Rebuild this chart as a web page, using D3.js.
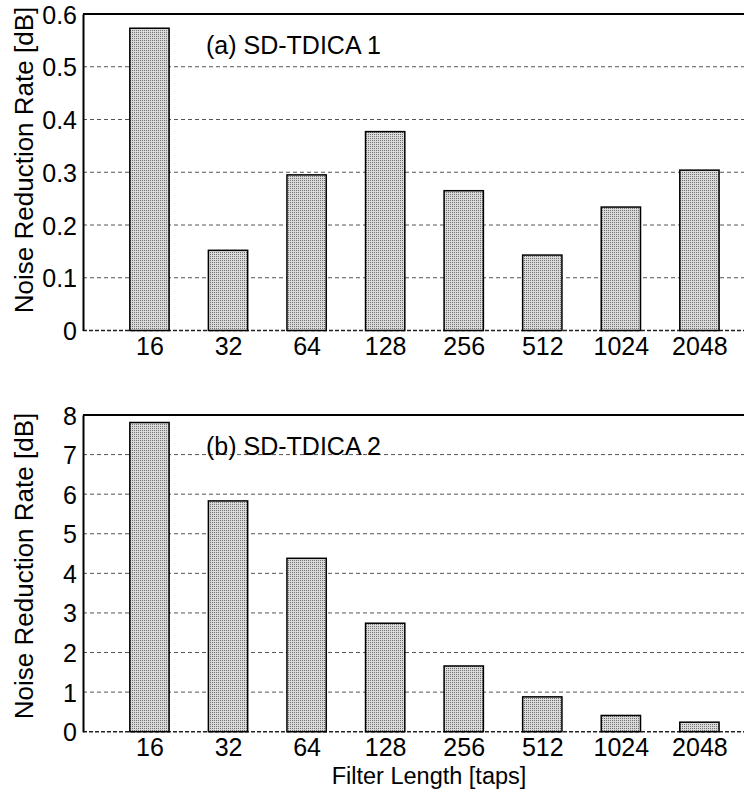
<!DOCTYPE html>
<html>
<head>
<meta charset="utf-8">
<script src="https://cdn.jsdelivr.net/npm/d3@7"></script>
<style>
  body { margin: 0; background: #fff; }
  text { font-family: Arial, "Liberation Sans", sans-serif; fill: #000; }
</style>
</head>
<body>
<div id="chart"></div>
<script>
// filter lengths (taps)
const filterLengths = ["16", "32", "64", "128", "256", "512", "1024", "2048"];

// noise reduction rate [dB]
const tdica1 = [0.573, 0.152, 0.295, 0.377, 0.265, 0.143, 0.234, 0.304];
const tdica2 = [7.81, 5.83, 4.38, 2.74, 1.66, 0.88, 0.41, 0.24];

const ticks1 = [0, 0.1, 0.2, 0.3, 0.4, 0.5, 0.6];
const ticks2 = [0, 1, 2, 3, 4, 5, 6, 7, 8];

let width = 744,
  height = 811,
  left = 83,
  right = 778; // axes run past the right edge of the picture

const svg = d3.select("#chart")
  .append("svg")
  .attr("width", width)
  .attr("height", height);

// stipple fill for the bars
let pat = svg.append("defs").append("pattern")
  .attr("id", "stipple")
  .attr("patternUnits", "userSpaceOnUse")
  .attr("width", 2)
  .attr("height", 2);
pat.append("rect").attr("width", 2).attr("height", 2).attr("fill", "#dadada");
pat.append("rect").attr("width", 1).attr("height", 1).attr("fill", "#707070");

// bars sit at 1..8 on a linear axis, like matlab's bar()
let x = d3.scaleLinear()
  .domain([0.154, 9])
  .range([left, right]);

function panel(values, ticks, top, bottom, title, fmt, labelY) {
  let y = d3.scaleLinear()
    .domain([0, d3.max(ticks)])
    .range([bottom, top]);

  let g = svg.append("g");

  // dashed grid
  g.selectAll(".grid")
    .data(ticks.filter(t => t > 0 && t < d3.max(ticks)))
    .join("line")
    .attr("x1", left)
    .attr("x2", right)
    .attr("y1", d => y(d))
    .attr("y2", d => y(d))
    .attr("stroke", "#555")
    .attr("stroke-width", 1)
    .attr("stroke-dasharray", "4,3");

  // bottom edge is dashed too
  g.append("line")
    .attr("x1", left).attr("x2", right)
    .attr("y1", y(0)).attr("y2", y(0))
    .attr("stroke", "#222")
    .attr("stroke-width", 1.5)
    .attr("stroke-dasharray", "4,2");

  g.selectAll(".bar")
    .data(values)
    .join("rect")
    .attr("x", (d, i) => x(i + 1 - 0.25))
    .attr("width", x(1.25) - x(0.75))
    .attr("y", d => y(d))
    .attr("height", d => y(0) - y(d))
    .attr("fill", "url(#stipple)")
    .attr("stroke", "#000")
    .attr("stroke-width", 1.5);

  // top edge and left axis
  g.append("line")
    .attr("x1", left).attr("x2", right)
    .attr("y1", top).attr("y2", top)
    .attr("stroke", "#000")
    .attr("stroke-width", 2);

  g.append("g")
    .attr("transform", `translate(${left},0)`)
    .call(d3.axisLeft(y)
      .tickValues(ticks)
      .tickFormat(fmt)
      .tickSize(0)
      .tickPadding(6))
    .call(a => a.select(".domain").attr("stroke-width", 2))
    .selectAll("text")
    .attr("font-size", 25)
    .attr("dy", "0.36em");

  g.append("g")
    .attr("transform", `translate(0,${bottom})`)
    .call(d3.axisBottom(x)
      .tickValues(d3.range(1, 9))
      .tickFormat(d => filterLengths[d - 1])
      .tickSize(0)
      .tickPadding(7))
    .call(a => a.select(".domain").remove())
    .selectAll("text")
    .attr("font-size", 25);

  g.append("text")
    .attr("x", 206)
    .attr("y", top + 40)
    .attr("font-size", 25)
    .text(title);

  g.append("text")
    .attr("transform", `translate(33,${labelY}) rotate(-90)`)
    .attr("text-anchor", "middle")
    .attr("font-size", 26)
    .text("Noise Reduction Rate [dB]");
}

panel(tdica1, ticks1, 14, 330.5, "(a) SD-TDICA 1", d => d === 0 ? "0" : d3.format(".1f")(d), 160);
panel(tdica2, ticks2, 415, 731.7, "(b) SD-TDICA 2", d => d, 566);

svg.append("text")
  .attr("x", 429)
  .attr("y", 784)
  .attr("text-anchor", "middle")
  .attr("font-size", 23.5)
  .text("Filter Length [taps]");
</script>
</body>
</html>
